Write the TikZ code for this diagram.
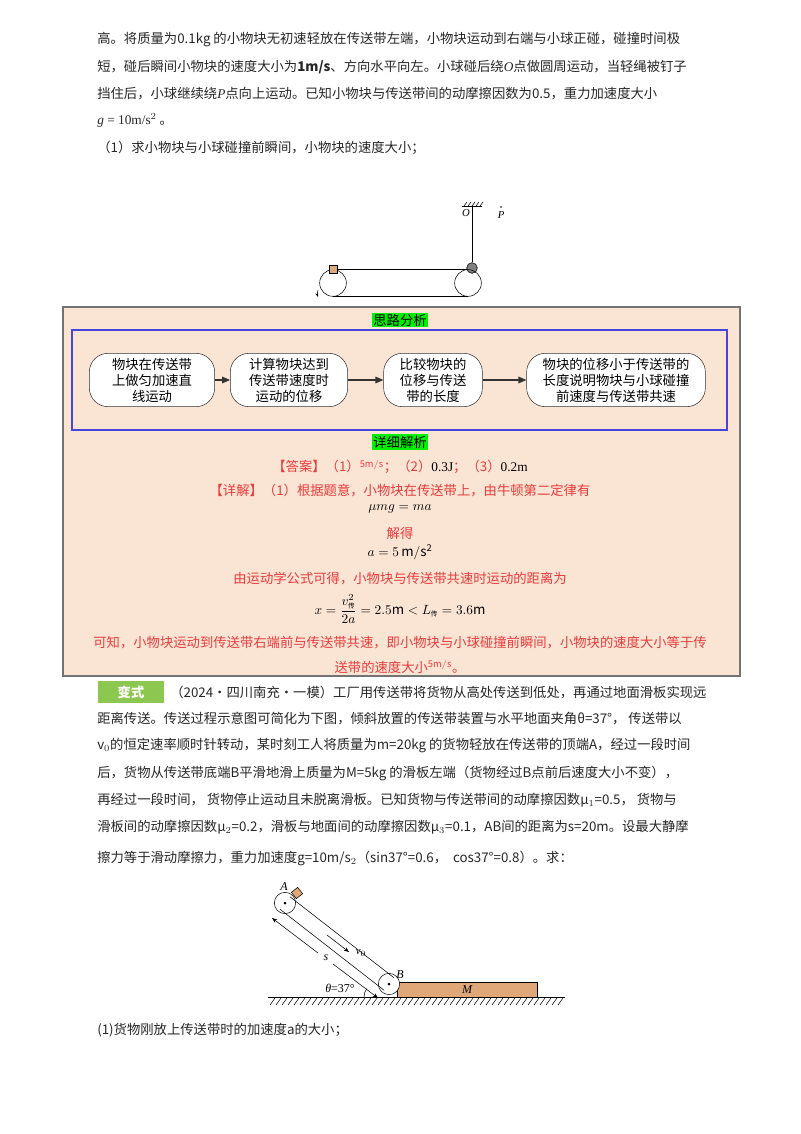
\documentclass[tikz,border=0pt]{standalone}
\usepackage{amsmath}
\usepackage{fontspec}
\setmainfont{Noto Sans CJK SC}
\newfontfamily\mathserif{Liberation Serif}
\usetikzlibrary{arrows.meta,patterns}
\definecolor{peach}{RGB}{250,228,212}
\definecolor{redt}{RGB}{232,60,60}
\definecolor{gbg}{RGB}{0,240,0}
\definecolor{bluebox}{RGB}{70,70,220}
\definecolor{wood}{RGB}{224,168,120}
\definecolor{badge}{RGB}{140,200,80}
\tikzset{
 txt/.style={anchor=west,inner sep=0,font=\fontsize{10}{12}\selectfont,text=black!85},
 ctr/.style={inner sep=0,font=\fontsize{10}{12}\selectfont},
 red/.style={ctr,text=redt},
 flow/.style={draw=black!80,fill=white,rounded corners=14pt,align=center,font=\fontsize{10}{12}\selectfont,inner sep=3pt,minimum height=40pt},
 arr/.style={-{Triangle[length=6pt,width=5pt]},thick,black!80},
 lbl/.style={inner sep=1pt,font=\fontsize{10}{12}\selectfont,fill=gbg}
}
\begin{document}
\begin{tikzpicture}[x=0.75pt,y=-0.75pt]
\useasboundingbox (0,0) rectangle (800,1134);
% top text
\node[txt] (l1) at (97,40) {高。将质量为0.1kg 的小物块无初速轻放在传送带左端，小物块运动到右端与小球正碰，碰撞时间极};
\node[txt] (l2) at (97,67) {短，碰后瞬间小物块的速度大小为\textbf{1m/s}、方向水平向左。小球碰后绕\textit{\mathserif O}点做圆周运动，当轻绳被钉子};
\node[txt] (l3) at (97,94) {挡住后，小球继续绕\textit{\mathserif P}点向上运动。已知小物块与传送带间的动摩擦因数为0.5，重力加速度大小};
\node[txt] (l4) at (97,120) {{\mathserif\textit{g} = 10m/s$^{2}$} 。};
\node[txt] (l5) at (97,148) {（1）求小物块与小球碰撞前瞬间，小物块的速度大小；};
% small figure
\draw (462,206) -- (482,206);
\foreach \i in {0,...,4} \draw (464+4*\i,206) -- (467+4*\i,202);
\node[font=\mathserif\itshape\fontsize{8}{8}\selectfont] (O) at (466,213) {O};
\node[font=\mathserif\itshape\fontsize{8}{8}\selectfont] (P) at (501,215) {P};
\fill (501,207) circle (0.8);
\coordinate (top) at (472,206);
\node[circle,draw,fill=gray,minimum size=8,inner sep=0] (ball) at (472,268) {};
\draw (top) -- (ball);
\node[circle,draw,minimum size=20,inner sep=0] (p1) at (333,283) {};
\node[circle,draw,minimum size=20,inner sep=0] (p2) at (468,283) {};
\draw (p1.north) -- (p2.north) (p1.south) -- (p2.south);
\draw[fill=wood] (329,265) rectangle (337,273);
\draw[-{Stealth[length=3pt]}] (318,290) arc (200:160:10);
% big box
\draw[draw=black!55,fill=peach,thick] (63,307) rectangle (740,676);
\node[lbl] (sl) at (400,320) {思路分析};
\draw[bluebox,thick] (72,330) rectangle (727,430);
\node[flow,text width=88pt] (f1) at (152,380) {物块在传送带\\上做匀加速直\\线运动};
\node[flow,text width=82pt] (f2) at (289,380) {计算物块达到\\传送带速度时\\运动的位移};
\node[flow,text width=68pt] (f3) at (433,380) {比较物块的\\位移与传送\\带的长度};
\node[flow,text width=128pt] (f4) at (616,380) {物块的位移小于传送带的\\长度说明物块与小球碰撞\\前速度与传送带共速};
\draw[arr] (f1) -- (f2); \draw[arr] (f2) -- (f3); \draw[arr] (f3) -- (f4);
\node[lbl] (xl) at (400,442) {详细解析};
\node[red] (ans) at (400,467) {【答案】（1）$^{\mathrm{5m/s}}$；（2）{\color{black}\mathserif 0.3J}；（3）{\color{black}\mathserif 0.2m}};
\node[red] (d1) at (400,491) {【详解】（1）根据题意，小物块在传送带上，由牛顿第二定律有};
\node[ctr] (e1) at (400,509) {$\mu mg = ma$};
\node[red] (d2) at (400,533) {解得};
\node[ctr] (e2) at (400,552) {$a = 5\,\mathrm{m/s^2}$};
\node[red] (d3) at (400,579) {由运动学公式可得，小物块与传送带共速时运动的距离为};
\node[ctr,inner sep=1pt] (e3) at (400,609) {$x=\dfrac{v_{\mbox{\tiny 传}}^{2}}{2a}=2.5\mathrm{m}<L_{\mbox{\tiny 传}}=3.6\mathrm{m}$};
\node[red] (d4) at (400,643) {可知，小物块运动到传送带右端前与传送带共速，即小物块与小球碰撞前瞬间，小物块的速度大小等于传};
\node[red] (d5) at (400,667) {送带的速度大小$^{\mathrm{5m/s}}$。};
% variant
\node[fill=badge,text=white,minimum width=50pt,minimum height=15pt,font=\bfseries\fontsize{10}{10}\selectfont] (bd) at (131,692) {变式};
\node[txt] (v1) at (170,692) {（2024·四川南充·一模）工厂用传送带将货物从高处传送到低处，再通过地面滑板实现远};
\node[txt] (v2) at (97,719) {距离传送。传送过程示意图可简化为下图，倾斜放置的传送带装置与水平地面夹角\textit{θ}=37°，\ 传送带以};
\node[txt] (v3) at (97,746) {\textit{v}$_0$的恒定速率顺时针转动，某时刻工人将质量为\textit{m}=20kg 的货物轻放在传送带的顶端\textit{A}，经过一段时间};
\node[txt] (v4) at (97,773) {后，货物从传送带底端\textit{B}平滑地滑上质量为\textit{M}=5kg 的滑板左端（货物经过\textit{B}点前后速度大小不变），};
\node[txt] (v5) at (97,800) {再经过一段时间，\ 货物停止运动且未脱离滑板。已知货物与传送带间的动摩擦因数\textit{μ}$_1$=0.5，\ 货物与};
\node[txt] (v6) at (97,827) {滑板间的动摩擦因数\textit{μ}$_2$=0.2，滑板与地面间的动摩擦因数\textit{μ}$_3$=0.1，\textit{AB}间的距离为\textit{s}=20m。设最大静摩};
\node[txt] (v7) at (97,858) {擦力等于滑动摩擦力，重力加速度\textit{g}=10m/s$_2$（sin37°=0.6，\ \ cos37°=0.8）。求：};
% incline figure
\draw (268,997) -- (565,997);
\foreach \x in {270,276,...,562} \draw (\x,1005) -- (\x+5,998);
\draw[fill=wood] (397,982) rectangle (537,997);
\node[font=\mathserif\itshape\fontsize{9}{9}\selectfont] (M) at (467,990) {M};
\node[circle,draw,minimum size=16,inner sep=0,fill=white] (A) at (285,903) {};
\node[circle,draw,minimum size=16,inner sep=0,fill=white] (B) at (389,984) {};
\fill (A) circle (1.5); \fill (B) circle (1.5);
\draw (289.9,896.7) -- (393.9,977.7) (280.1,909.3) -- (384.1,990.3);
\draw[fill=wood,rotate around={37.9:(297,893)}] (293,889) rectangle (301,897);
\node[font=\mathserif\itshape\fontsize{9}{9}\selectfont] (Al) at (284,887) {A};
\node[font=\mathserif\itshape\fontsize{9}{9}\selectfont] (Bl) at (400,975) {B};
\coordinate (s1) at (272,918); \coordinate (s2) at (378,998);
\draw[-{Stealth[length=4pt]}] (318,953) -- (s1);
\draw[-{Stealth[length=4pt]}] (333,964) -- (s2);
\node[font=\mathserif\itshape\fontsize{9}{9}\selectfont] (sl2) at (326,958) {s};
\coordinate (va) at (327,935); \coordinate (vb) at (349,952);
\draw[-{Stealth[length=4pt]}] (va) -- (vb);
\node[font=\mathserif\fontsize{8}{8}\selectfont] (v0) at (361,953) {\textit{v}$_0$};
\draw (364,997) arc (180:217:14);
\node[font=\mathserif\fontsize{9}{9}\selectfont] (th) at (340,988) {\textit{θ}=37°};
\node[txt] (q1) at (97,1030) {(1)货物刚放上传送带时的加速度\textit{a}的大小；};
\end{tikzpicture}
\end{document}
